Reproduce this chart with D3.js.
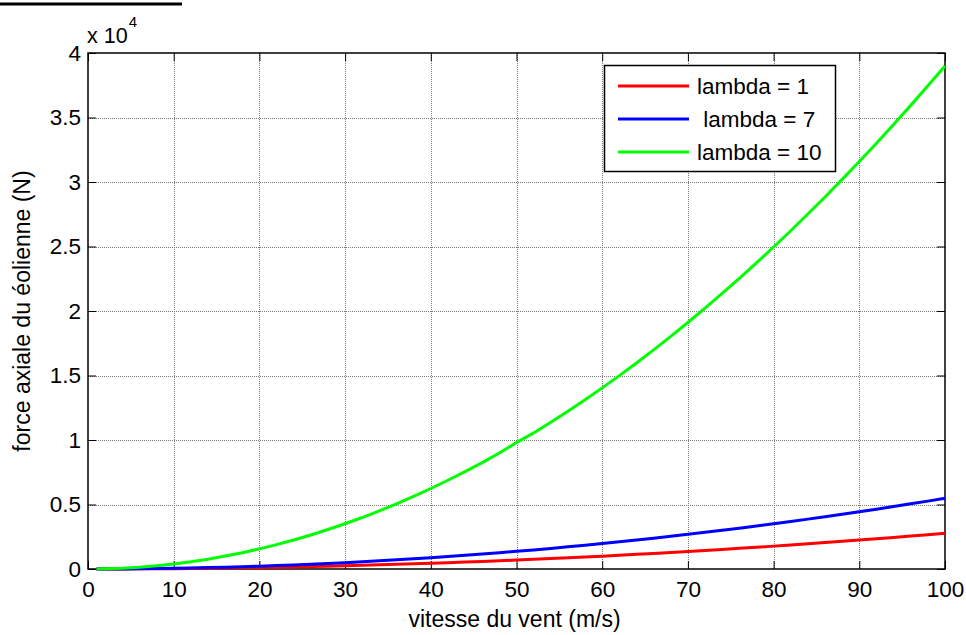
<!DOCTYPE html>
<html>
<head>
<meta charset="utf-8">
<script src="https://cdn.jsdelivr.net/npm/d3@7"></script>
<style>
  html, body { margin: 0; padding: 0; background: #fff; }
  svg { display: block; font-family: "Liberation Sans", Arial, sans-serif; }
</style>
</head>
<body>
<svg id="chart" width="966" height="635"></svg>
<script>
// Wind speed (m/s)
const speeds = [1, 2, 4, 6, 8, 10, 12, 14, 16, 18, 20, 22, 24, 26, 28, 30, 32, 34, 36, 38, 40,
  42, 44, 46, 48, 50, 52, 54, 56, 58, 60, 62, 64, 66, 68, 70, 72, 74, 76, 78, 80,
  82, 84, 86, 88, 90, 92, 94, 96, 98, 100];

// Axial thrust on the turbine (N) for each tip-speed ratio
const thrustLambda1 = [0, 1, 4, 10, 18, 28, 40, 54, 71, 90, 111, 134, 160, 187, 217, 249, 284, 320, 359, 400, 443,
  489, 536, 586, 638, 693, 749, 808, 869, 932, 997, 1065, 1135, 1207, 1281, 1357, 1436, 1517, 1600, 1685, 1773,
  1863, 1955, 2049, 2145, 2244, 2345, 2448, 2553, 2660, 2770];
const thrustLambda7 = [1, 2, 9, 20, 35, 55, 79, 107, 140, 178, 219, 265, 316, 370, 430, 493, 561, 633, 710, 791, 877,
  967, 1061, 1160, 1263, 1370, 1482, 1598, 1719, 1843, 1973, 2107, 2245, 2387, 2534, 2685, 2841, 3001, 3165, 3334, 3507,
  3685, 3867, 4053, 4244, 4439, 4638, 4842, 5050, 5263, 5480];
const thrustLambda10 = [0, 20, 60, 140, 250, 390, 560, 760, 1000, 1260, 1560, 1890, 2250, 2640, 3060, 3510, 3990, 4510, 5050, 5630, 6240,
  6880, 7550, 8250, 8990, 9800, 10550, 11370, 12230, 13120, 14040, 14990, 15970, 16990, 18030, 19110, 20220, 21360, 22530, 23730, 24960,
  26220, 27520, 28840, 30200, 31590, 33010, 34460, 35940, 37460, 39000];

const seriesNames = ["lambda = 1", " lambda = 7", "lambda = 10"];
const seriesColors = ["#ff0000", "#0000ff", "#00ff00"];
const seriesValues = [thrustLambda1, thrustLambda7, thrustLambda10];

const xTicks = [0, 10, 20, 30, 40, 50, 60, 70, 80, 90, 100];
const yTicks = [0, 5000, 10000, 15000, 20000, 25000, 30000, 35000, 40000];
const yTickLabels = ["0", "0.5", "1", "1.5", "2", "2.5", "3", "3.5", "4"];

const svg = d3.select("#chart");
const plotLeft = 88, plotRight = 945, plotTop = 53, plotBottom = 569;

const x = d3.scaleLinear().domain([0, 100]).range([plotLeft, plotRight]);
const y = d3.scaleLinear().domain([0, 40000]).range([plotBottom, plotTop]);

// decorative rule in the top-left corner
svg.append("line")
  .attr("x1", 0).attr("x2", 182).attr("y1", 4).attr("y2", 4)
  .attr("stroke", "#000").attr("stroke-width", 3);

// grid
const grid = svg.append("g").attr("stroke", "#7a7a7a").attr("stroke-width", 1).attr("stroke-dasharray", "1,1");
grid.selectAll(".gx").data(xTicks.slice(1, -1)).join("line")
  .attr("x1", d => Math.round(x(d)) + 0.5).attr("x2", d => Math.round(x(d)) + 0.5)
  .attr("y1", plotTop).attr("y2", plotBottom);
grid.selectAll(".gy").data(yTicks.slice(1, -1)).join("line")
  .attr("y1", d => Math.round(y(d)) + 0.5).attr("y2", d => Math.round(y(d)) + 0.5)
  .attr("x1", plotLeft).attr("x2", plotRight);

// axes (ticks drawn inward, mirrored on top/right)
const tickLen = 8;
const axisFont = "22.5px";
const gxB = svg.append("g").attr("transform", `translate(0,${plotBottom})`)
  .call(d3.axisBottom(x).tickValues(xTicks).tickSize(-tickLen).tickPadding(12).tickSizeOuter(0));
const gxT = svg.append("g").attr("transform", `translate(0,${plotTop})`)
  .call(d3.axisTop(x).tickValues(xTicks).tickSize(-tickLen).tickFormat("").tickSizeOuter(0));
const gyL = svg.append("g").attr("transform", `translate(${plotLeft},0)`)
  .call(d3.axisLeft(y).tickValues(yTicks).tickSize(-tickLen).tickPadding(7).tickSizeOuter(0)
    .tickFormat((d, i) => yTickLabels[i]));
const gyR = svg.append("g").attr("transform", `translate(${plotRight},0)`)
  .call(d3.axisRight(y).tickValues(yTicks).tickSize(-tickLen).tickFormat("").tickSizeOuter(0));
[gxB, gxT, gyL, gyR].forEach(g => {
  g.select(".domain").remove();
  g.selectAll(".tick line").attr("stroke", "#000").attr("stroke-width", 1);
  g.selectAll("text").attr("font-size", axisFont).attr("font-family", "Liberation Sans, Arial, sans-serif").attr("fill", "#000");
});

// axes box
svg.append("rect")
  .attr("x", plotLeft).attr("y", plotTop).attr("width", plotRight - plotLeft).attr("height", plotBottom - plotTop)
  .attr("fill", "none").attr("stroke", "#000").attr("stroke-width", 1.5);

// exponent label
const expo = svg.append("text").attr("x", 87).attr("y", 43).attr("font-size", "21.5px").attr("fill", "#000");
expo.append("tspan").text("x 10");
expo.append("tspan").attr("font-size", "15px").attr("dy", -16).attr("dx", 1).text("4");

// curves
const line = d3.line().x((d, i) => x(speeds[i])).y(d => y(d));
svg.append("g").selectAll("path").data(seriesValues).join("path")
  .attr("d", d => line(d))
  .attr("fill", "none")
  .attr("stroke", (d, i) => seriesColors[i])
  .attr("stroke-width", 3)
  .attr("stroke-linejoin", "round");

// axis titles
svg.append("text").attr("x", (plotLeft + plotRight) / 2 - 2).attr("y", 627)
  .attr("text-anchor", "middle").attr("font-size", "23px").text("vitesse du vent (m/s)");
svg.append("text").attr("transform", `translate(30,${(plotTop + plotBottom) / 2}) rotate(-90)`)
  .attr("text-anchor", "middle").attr("font-size", "23px").text("force axiale du éolienne (N)");

// legend
const legend = svg.append("g");
legend.append("rect").attr("x", 604.5).attr("y", 65.5).attr("width", 231).attr("height", 106)
  .attr("fill", "#fff").attr("stroke", "#000").attr("stroke-width", 1.5);
const rowY = [86, 119, 152];
seriesNames.forEach((name, i) => {
  legend.append("line").attr("x1", 618).attr("x2", 689).attr("y1", rowY[i]).attr("y2", rowY[i])
    .attr("stroke", seriesColors[i]).attr("stroke-width", 3);
  legend.append("text").attr("x", 697).attr("y", rowY[i]).attr("dy", "0.36em")
    .attr("font-size", "22.5px").attr("xml:space", "preserve").style("white-space", "pre").text(name);
});
</script>
</body>
</html>
